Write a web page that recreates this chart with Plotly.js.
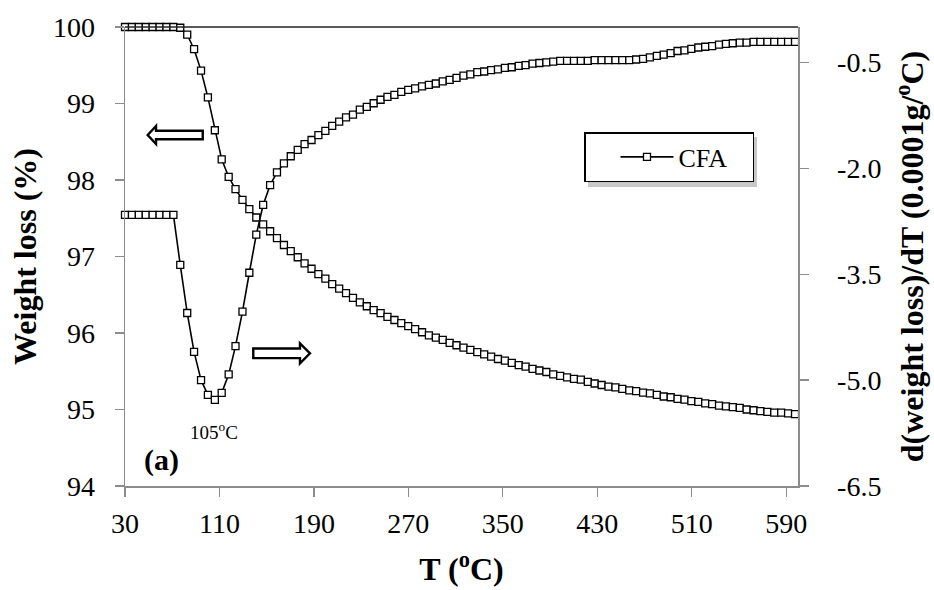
<!DOCTYPE html>
<html><head><meta charset="utf-8">
<script src="https://cdn.plot.ly/plotly-3.0.1.min.js"></script>
<style>body{margin:0;background:#fff}#chart{width:934px;height:590px}</style>
</head><body><div id="chart"></div>
<script>
// ---- data ----
const temperature = [30.0, 35.9, 41.7, 47.6, 53.4, 59.3, 65.1, 71.0, 76.8, 82.7,
  88.5, 94.4, 100.2, 106.1, 111.9, 117.8, 123.6, 129.5, 135.3, 141.2,
  147.0, 152.9, 158.7, 164.6, 170.4, 176.3, 182.1, 188.0, 193.8, 199.7,
  205.5, 211.4, 217.2, 223.1, 228.9, 234.8, 240.6, 246.5, 252.3, 258.2,
  264.0, 269.9, 275.7, 281.6, 287.4, 293.3, 299.1, 305.0, 310.8, 316.7,
  322.5, 328.4, 334.2, 340.1, 345.9, 351.8, 357.6, 363.5, 369.3, 375.2,
  381.0, 386.9, 392.7, 398.6, 404.4, 410.3, 416.1, 422.0, 427.8, 433.7,
  439.5, 445.4, 451.2, 457.1, 462.9, 468.8, 474.6, 480.5, 486.3, 492.2,
  498.0, 503.9, 509.7, 515.6, 521.4, 527.3, 533.1, 539.0, 544.8, 550.7,
  556.5, 562.4, 568.2, 574.1, 579.9, 585.8, 591.6, 597.5];

const weightLoss = [100.00, 100.00, 100.00, 100.00, 100.00, 100.00, 100.00, 100.00, 99.99, 99.90,
  99.71, 99.43, 99.08, 98.65, 98.27, 98.04, 97.88, 97.74, 97.62, 97.51,
  97.42, 97.33, 97.24, 97.15, 97.07, 96.99, 96.91, 96.84, 96.77, 96.71,
  96.64, 96.58, 96.52, 96.46, 96.40, 96.35, 96.30, 96.26, 96.21, 96.17,
  96.13, 96.09, 96.05, 96.01, 95.97, 95.94, 95.91, 95.87, 95.84, 95.81,
  95.78, 95.75, 95.72, 95.69, 95.66, 95.64, 95.61, 95.58, 95.56, 95.53,
  95.51, 95.49, 95.46, 95.44, 95.42, 95.40, 95.39, 95.36, 95.34, 95.32,
  95.30, 95.29, 95.27, 95.25, 95.24, 95.22, 95.21, 95.19, 95.17, 95.16,
  95.14, 95.13, 95.11, 95.10, 95.08, 95.07, 95.05, 95.04, 95.03, 95.02,
  95.00, 94.99, 94.98, 94.97, 94.96, 94.96, 94.95, 94.94];

const derivative = [-2.66, -2.66, -2.66, -2.66, -2.66, -2.66, -2.66, -2.66, -3.37, -4.05,
  -4.60, -5.00, -5.21, -5.28, -5.18, -4.92, -4.52, -4.03, -3.48, -2.94,
  -2.52, -2.24, -2.06, -1.93, -1.83, -1.74, -1.66, -1.60, -1.53, -1.47,
  -1.40, -1.34, -1.28, -1.24, -1.17, -1.13, -1.08, -1.03, -0.99, -0.96,
  -0.92, -0.89, -0.87, -0.84, -0.82, -0.80, -0.77, -0.75, -0.72, -0.69,
  -0.67, -0.64, -0.63, -0.61, -0.60, -0.58, -0.57, -0.55, -0.54, -0.52,
  -0.51, -0.50, -0.49, -0.48, -0.48, -0.48, -0.48, -0.48, -0.47, -0.47,
  -0.47, -0.47, -0.47, -0.47, -0.46, -0.45, -0.43, -0.41, -0.39, -0.37,
  -0.34, -0.33, -0.31, -0.29, -0.28, -0.27, -0.25, -0.24, -0.23, -0.22,
  -0.22, -0.21, -0.21, -0.21, -0.21, -0.21, -0.21, -0.21];

const xTickVals = [30, 110, 190, 270, 350, 430, 510, 590];
const yTickVals = [94, 95, 96, 97, 98, 99, 100];
const y2TickVals = [-6.5, -5.0, -3.5, -2.0, -0.5];
const y2TickText = ["-6.5", "-5.0", "-3.5", "-2.0", "-0.5"];
const seriesName = "CFA";

// ---- layout helpers (pixel -> paper for decorations) ----
const W = 934, H = 590;
const M = {l: 125, r: 136, t: 27, b: 104};
const PW = W - M.l - M.r, PH = H - M.t - M.b;
const px = x => (x - M.l) / PW;
const py = y => (H - M.b - y) / PH;
function pathFrom(points) {
  return points.map((p, i) => (i ? 'L' : 'M') + px(p[0]).toFixed(4) + ',' + py(p[1]).toFixed(4)).join(' ') + ' Z';
}
const leftArrow = pathFrom([[147.7,135],[156,126],[156,130.7],[202.7,130.7],[202.7,139.3],[156,139.3],[156,144]]);
const rightArrow = pathFrom([[310,353.3],[300,343.3],[300,348.5],[253.3,348.5],[253.3,358.1],[300,358.1],[300,363.3]]);

const FONT = "Liberation Serif, Times New Roman, serif";
const markerFill = {symbol: 'square', size: 7, color: '#fff', line: {width: 1.3, color: '#000'}};

const traces = [
  {x: temperature, y: weightLoss, type: 'scatter', mode: 'lines+markers', name: seriesName + '\u00a0\u00a0\u00a0',
   line: {color: '#000', width: 1.6}, marker: markerFill, cliponaxis: false, showlegend: true},
  {x: temperature, y: derivative, type: 'scatter', mode: 'lines+markers', name: seriesName, yaxis: 'y2',
   line: {color: '#000', width: 1.6}, marker: markerFill, cliponaxis: false, showlegend: false}
];

const axisCommon = {
  showgrid: false, zeroline: false, showline: true, linecolor: '#8c8c8c', linewidth: 1.5,
  ticks: 'outside', ticklen: 9, tickwidth: 1.2, tickcolor: '#8c8c8c',
  tickfont: {family: FONT, size: 28, color: '#000'}
};

const layout = {
  width: W, height: H, margin: M,
  paper_bgcolor: '#fff', plot_bgcolor: '#fff',
  font: {family: FONT, color: '#000'},
  xaxis: Object.assign({}, axisCommon, {
    range: [30, 600], tickvals: xTickVals, linewidth: 2.2, ticklabelstandoff: 2,
    title: {text: '<b>T (<sup>o</sup>C)</b>', font: {family: FONT, size: 32}, standoff: 20}
  }),
  yaxis: Object.assign({}, axisCommon, {
    range: [94, 100], tickvals: yTickVals, ticklabelstandoff: 14,
    title: {text: '<b>Weight loss (%)</b>', font: {family: FONT, size: 32}, standoff: 6}
  }),
  yaxis2: Object.assign({}, axisCommon, {
    overlaying: 'y', side: 'right', range: [-6.5, 0], tickvals: y2TickVals, ticktext: y2TickText,
    ticklabelstandoff: 23,
    title: {text: '<b>d(weight loss)/dT (0.0001g/<sup>o</sup>C)</b>', font: {family: FONT, size: 32}, standoff: 20}
  }),
  showlegend: true,
  legend: {
    x: px(584), y: py(132), xanchor: 'left', yanchor: 'top',
    bgcolor: '#fff', bordercolor: '#000', borderwidth: 1.5,
    font: {family: FONT, size: 26}, itemwidth: 53, indentation: 30
  },
  shapes: [
    {type: 'line', xref: 'paper', yref: 'paper', x0: 0, x1: 1, y0: 1, y1: 1, line: {color: '#222', width: 1.6}},
    {type: 'rect', xref: 'paper', yref: 'paper', x0: px(588), x1: px(757), y0: py(187), y1: py(137),
     fillcolor: '#c8c8c8', line: {width: 0}, layer: 'above'},
    {type: 'path', xref: 'paper', yref: 'paper', path: leftArrow, fillcolor: '#fff', line: {color: '#000', width: 2.4}},
    {type: 'path', xref: 'paper', yref: 'paper', path: rightArrow, fillcolor: '#fff', line: {color: '#000', width: 2.4}}
  ],
  annotations: [
    {xref: 'paper', yref: 'paper', x: px(214), y: py(431), text: '105<sup>o</sup>C', showarrow: false,
     font: {family: FONT, size: 19}, xanchor: 'center', yanchor: 'middle'},
    {xref: 'paper', yref: 'paper', x: px(142), y: py(460), text: '<b>(a)</b>', showarrow: false,
     font: {family: FONT, size: 30}, xanchor: 'left', yanchor: 'middle'}
  ]
};

Plotly.newPlot('chart', traces, layout, {displayModeBar: false, staticPlot: true});
</script>
</body></html>
